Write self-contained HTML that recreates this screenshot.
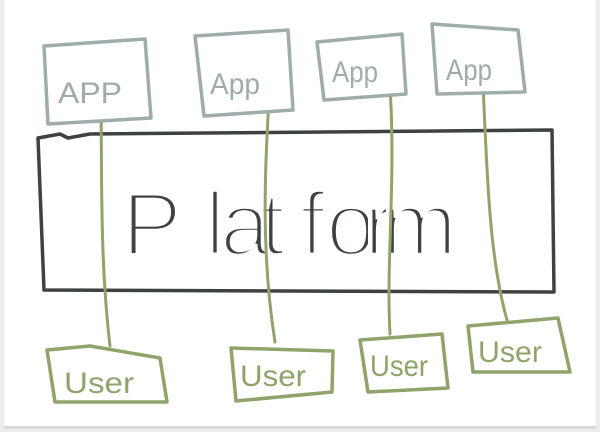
<!DOCTYPE html>
<html><head><meta charset="utf-8"><style>
html,body{margin:0;padding:0;background:#f2f2f2;}
body{width:600px;height:432px;overflow:hidden;}
svg{display:block}
text{font-family:"Liberation Sans",sans-serif;}
</style></head><body>
<svg width="600" height="432" viewBox="0 0 600 432">
<rect x="0" y="0" width="600" height="432" fill="#ededed"/>
<rect x="4" y="0" width="592" height="428" fill="#ffffff"/>
<rect x="4" y="426" width="592" height="3" fill="#d8d8d8"/>
<!-- platform -->
<path d="M38 138 L60 134 L68 138 L90 134 L552 130 L554 292 L44 290 Z" fill="none" stroke="#3e4242" stroke-width="3.5" stroke-linejoin="round"/>
<text x="122 205 220 260 300 326 364 382" y="255" font-size="90" fill="#3e4242" stroke="#fff" stroke-width="4.5" paint-order="normal">Platform</text>
<!-- connectors -->
<g stroke="#8fa36a" stroke-width="3" fill="none" stroke-linecap="round">
<path d="M101 106 C102 180 100 260 110 346"/>
<path d="M269 100 C264 180 262 260 275 342"/>
<path d="M390 88 C396 180 386 260 390 334"/>
<path d="M483 82 C487 180 490 260 507 320"/>
</g>
<!-- apps -->
<g fill="#fff" stroke="#9fadaa" stroke-width="3.5" stroke-linejoin="round">
<path d="M44 46 L145 39 L151 118 L48 124 Z"/>
<path d="M195 36 L288 30 L293 110 L204 116 Z"/>
<path d="M317 42 L402 34 L406 94 L324 100 Z"/>
<path d="M432 24 L518 30 L525 92 L437 94 Z"/>
</g>
<g fill="#9fadaa" font-size="30">
<text x="58" y="103" textLength="64" lengthAdjust="spacingAndGlyphs">APP</text>
<text x="210" y="94" textLength="50" lengthAdjust="spacingAndGlyphs">App</text>
<text x="332" y="82" textLength="46" lengthAdjust="spacingAndGlyphs">App</text>
<text x="446" y="80" textLength="46" lengthAdjust="spacingAndGlyphs">App</text>
</g>
<!-- users -->
<g fill="#fff" stroke="#8fa36a" stroke-width="3.5" stroke-linejoin="round">
<path d="M47 350 L90 346 L160 358 L167 402 L55 402 Z"/>
<path d="M231 348 L333 351 L332 392 L236 401 Z"/>
<path d="M360 340 L442 334 L448 388 L368 392 Z"/>
<path d="M468 326 L558 318 L570 372 L473 372 Z"/>
</g>
<g fill="#8fa36a" font-size="30">
<text x="64" y="393" textLength="70" lengthAdjust="spacingAndGlyphs">User</text>
<text x="240" y="386" textLength="66" lengthAdjust="spacingAndGlyphs">User</text>
<text x="370" y="376" textLength="58" lengthAdjust="spacingAndGlyphs">User</text>
<text x="478" y="362" textLength="64" lengthAdjust="spacingAndGlyphs">User</text>
</g>
</svg>
</body></html>
